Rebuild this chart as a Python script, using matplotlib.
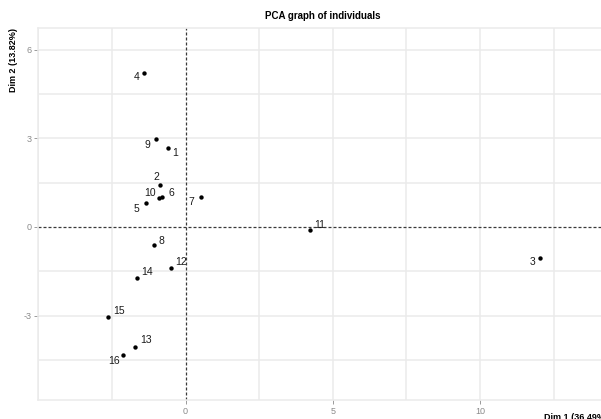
import matplotlib
matplotlib.use("Agg")
import matplotlib.pyplot as plt

## Data
labels = ["1", "2", "3", "4", "5", "6", "7", "8",
          "9", "10", "11", "12", "13", "14", "15", "16"]
dim1 = [-0.60, -0.86, 12.05, -1.41, -1.33, -0.79, 0.53, -1.06,
        -0.99, -0.91, 4.22, -0.50, -1.73, -1.65, -2.64, -2.12]
dim2 = [2.69, 1.41, -1.05, 5.23, 0.80, 1.02, 1.03, -0.60,
        2.98, 0.99, -0.11, -1.38, -4.06, -1.73, -3.06, -4.33]
x_ticks = [0, 5, 10]
y_ticks = [-3, 0, 3, 6]

## Label offsets (points), mimicking the repel layout
offsets = [(5, -4), (-2.5, 6), (-5.5, -3), (-5.5, -3.3), (-6.8, -4.3), (6.8, 2.7),
           (-6.7, -3.6), (5.3, 2.7), (-6.2, -4.1), (-6.5, 3.6), (7.4, 3.8), (7.6, 4.3),
           (7.9, 5), (7.2, 4.3), (7.9, 4.5), (-6.7, -4.5)]

plt.rcParams["font.family"] = ["Liberation Sans", "DejaVu Sans"]

fig = plt.figure(figsize=(6.01, 4.19), dpi=100)
ax = fig.add_axes([38.3 / 601, 19 / 419, (608 - 38.3) / 601, (400 - 27.7) / 419])

grid_col = "#EBEBEB"
for v in [-5, -2.5, 2.5, 5, 7.5, 10, 12.5]:
    ax.axvline(v, color=grid_col, lw=1.1, zorder=0)
for v in [-4.5, -3, -1.5, 1.5, 3, 4.5, 6]:
    ax.axhline(v, color=grid_col, lw=1.1, zorder=0)

## Reference lines through the origin
ax.axhline(0, color="#3A3A3A", lw=0.9, ls=(0, (2.4, 1.6)), zorder=1)
ax.axvline(0, color="#3A3A3A", lw=0.9, ls=(0, (2.4, 1.6)), zorder=1)

ax.scatter(dim1, dim2, s=10, color="black", zorder=3, linewidths=0)
for lab, xv, yv, off in zip(labels, dim1, dim2, offsets):
    ax.annotate(lab, (xv, yv), xytext=off, textcoords="offset points",
                ha="center", va="center", fontsize=7.5, color="#1A1A1A", zorder=4)

ax.set_xlim(-5, 14.35)
ax.set_ylim(-5.86, 6.75)
ax.set_xticks(x_ticks)
ax.set_yticks(y_ticks)
ax.set_xticklabels([str(t) for t in x_ticks])
ax.set_yticklabels([str(t) for t in y_ticks])
ax.tick_params(axis="both", labelsize=6.5, colors="#8A8A8A", length=3, width=0.6, pad=2)
for s in ax.spines.values():
    s.set_color(grid_col)
    s.set_linewidth(1.1)

fig.text(323 / 601, 1 - 16 / 419, "PCA graph of individuals", ha="center", va="center",
         fontsize=7, fontweight="bold")
fig.text(14 / 601, 1 - 28 / 419, "Dim 2 (13.82%)", rotation=90, ha="center", va="top",
         fontsize=6.5, fontweight="bold")
fig.text(608 / 601, 1 - 413 / 419, "Dim 1 (36.49%)", ha="right", va="top",
         fontsize=6.5, fontweight="bold")

fig.savefig("out.png", dpi=100)
